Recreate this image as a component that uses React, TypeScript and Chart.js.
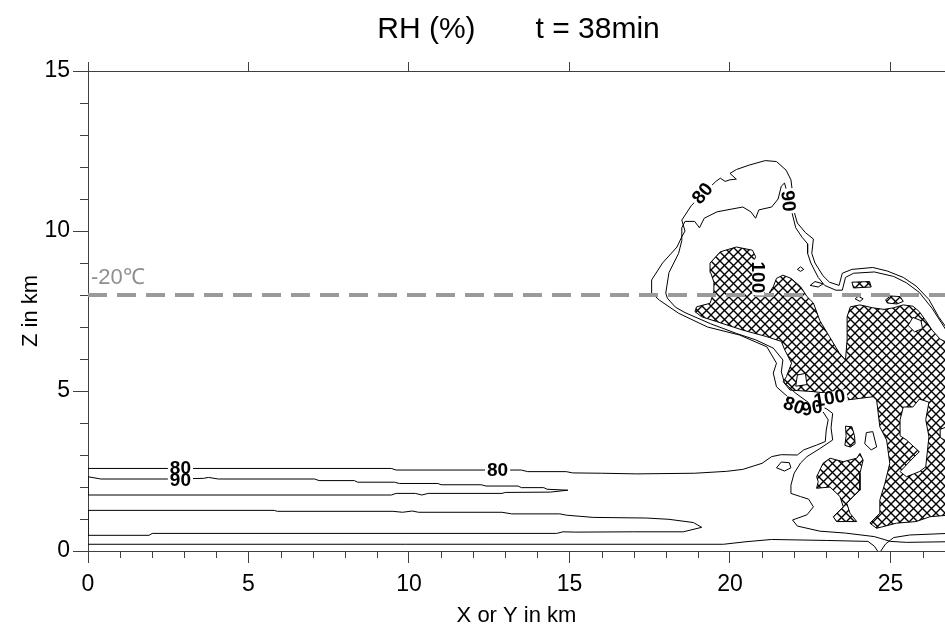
import { useEffect, useRef } from 'react';
import { Chart, registerables } from 'chart.js';

Chart.register(...registerables);

type P = [number, number];

// ---- axes ----
const xRange: P = [0, 26.7];
const yRange: P = [0, 15];
const xTickValues = [0, 5, 10, 15, 20, 25];
const yTickValues = [0, 5, 10, 15];
const minorStep = 1;

const titleLeft = 'RH (%)';
const titleRight = 't = 38min';
const xAxisTitle = 'X or Y in km';
const yAxisTitle = 'Z in km';

// -20 C isotherm height (km)
const isothermZ = 8;
const isothermText = '-20℃';

// ---- contour lines (km, km) ----
const rh80Outer: P[] = [
  [0, 2.58], [9.45, 2.58], [9.6, 2.53], [13.5, 2.53], [13.7, 2.48], [14.9, 2.48], [15.1, 2.44], [16.0, 2.43],
  [17.1, 2.41], [18.9, 2.43], [19.9, 2.49], [20.4, 2.55], [21.0, 2.74], [21.3, 2.95], [21.6, 3.01], [22.1, 3.0],
  [22.3, 3.16], [22.7, 3.31], [22.97, 3.42], [23.0, 3.78], [23.06, 4.1], [22.9, 4.35], [22.4, 4.5], [21.8, 4.82],
  [21.45, 5.13], [21.35, 5.56], [21.45, 5.87], [21.15, 6.38], [20.3, 6.75], [19.3, 7.0], [18.4, 7.43], [17.8, 7.84],
  [17.56, 8.06], [17.56, 8.47], [17.9, 9.0], [18.35, 9.5], [18.5, 9.82], [18.6, 10.0], [18.5, 10.34], [18.8, 10.8],
  [19.0, 11.0], [19.55, 11.54], [19.7, 11.65], [19.85, 11.55], [20.0, 11.6], [20.2, 11.62], [20.0, 11.8], [20.2, 11.92],
  [20.6, 12.06], [21.1, 12.2], [21.45, 12.17], [21.75, 11.9], [21.9, 11.6], [21.95, 11.2], [22.0, 10.6], [22.1, 10.25],
  [22.35, 9.95], [22.6, 9.75], [22.55, 9.3], [22.65, 9.0], [22.9, 8.6], [23.1, 8.4], [23.4, 8.3], [23.5, 8.68],
  [23.8, 8.8], [24.45, 8.86], [24.9, 8.75], [25.4, 8.55], [25.8, 8.28], [26.2, 7.86], [26.5, 7.32], [26.8, 6.9],
];

const rh90Inner: P[] = [
  [26.8, 0.29], [25.5, 0.27], [25.0, 0.3], [24.5, 0.45], [23.6, 0.56], [22.8, 0.62], [22.1, 0.78], [21.95, 0.97],
  [22.4, 1.13], [22.6, 1.38], [22.45, 1.62], [22.2, 1.7], [21.9, 1.8], [21.9, 2.06], [22.0, 2.43], [22.2, 2.75],
  [22.4, 2.95], [22.8, 3.2], [23.2, 3.47], [23.15, 3.85], [23.2, 4.3], [23.0, 4.45], [22.5, 4.6], [22.05, 4.93],
  [21.7, 5.25], [21.6, 5.6], [21.65, 5.97], [21.35, 6.34], [20.8, 6.6], [20.2, 6.8], [19.4, 7.1], [18.6, 7.45],
  [18.3, 7.62], [18.05, 7.9], [18.0, 8.06], [18.1, 8.7], [18.4, 9.3], [18.5, 9.7], [18.5, 10.1], [18.6, 10.3],
  [18.9, 10.3], [19.05, 10.1], [19.2, 10.4], [19.6, 10.6], [20.4, 10.75], [20.65, 10.6], [20.8, 10.4], [20.9, 10.66],
  [21.3, 10.75], [21.5, 11.0], [21.6, 11.4], [21.7, 11.5], [21.85, 10.95], [21.95, 10.5], [22.05, 10.1], [22.25, 9.8],
  [22.42, 9.6], [22.42, 9.3], [22.52, 9.0], [22.75, 8.55], [22.95, 8.3], [23.3, 8.15], [23.5, 8.15], [23.6, 8.55],
  [23.85, 8.68], [24.5, 8.72], [25.1, 8.58], [25.5, 8.38], [25.9, 8.08], [26.3, 7.58], [26.8, 6.8],
];

const rh90Tongue: P[] = [
  [0, 2.32], [0.4, 2.25], [2.5, 2.25], [3.6, 2.27], [3.75, 2.3], [4.06, 2.25], [7.06, 2.25], [7.2, 2.2],
  [8.3, 2.2], [8.4, 2.15], [9.55, 2.15], [9.7, 2.11], [10.9, 2.11], [11.0, 2.07], [12.25, 2.07], [12.4, 2.03],
  [13.4, 2.03], [13.5, 1.98], [14.2, 1.98], [14.3, 1.93], [14.95, 1.9], [14.4, 1.84], [13.0, 1.83], [12.9, 1.8],
  [10.6, 1.8], [10.4, 1.75], [10.2, 1.8], [9.6, 1.8], [9.45, 1.75], [0, 1.75],
];

const lowTongue: P[] = [
  [0, 1.27], [5.8, 1.27], [5.9, 1.24], [9.5, 1.24], [9.8, 1.21], [10.1, 1.25], [10.3, 1.21], [12.9, 1.21],
  [13.2, 1.16], [14.7, 1.16], [14.9, 1.12], [15.74, 1.05], [17.4, 1.03], [18.1, 0.99], [18.86, 0.89], [19.12, 0.74],
  [18.55, 0.6], [17.0, 0.6], [15.2, 0.59], [14.8, 0.6], [14.6, 0.55], [2.0, 0.55], [1.9, 0.49], [0, 0.49],
];

const surfaceLineA: P[] = [
  [0, 0.21], [19.8, 0.21], [20.5, 0.29], [21.3, 0.36], [23.0, 0.33], [24.3, 0.3], [24.5, 0.15], [24.6, 0],
];
const surfaceLineB: P[] = [
  [24.7, 0], [24.85, 0.22], [25.1, 0.42], [25.6, 0.5], [26.8, 0.55],
];

const smallLoops: P[][] = [
  [[21.45, 2.6], [21.6, 2.78], [21.85, 2.76], [21.9, 2.6], [21.7, 2.5]],
  [[24.25, 3.7], [24.45, 3.73], [24.57, 3.25], [24.4, 3.16], [24.2, 3.35]],
  [[22.1, 8.8], [22.2, 8.88], [22.3, 8.8], [22.2, 8.74]],
  [[22.5, 8.3], [22.65, 8.42], [22.9, 8.35], [22.75, 8.25]],
  [[23.9, 7.88], [24.0, 7.96], [24.15, 7.88], [24.05, 7.8]],
];

// ---- RH >= 100 % (hatched) ----
const sat100Main: P[] = [
  [19.38, 9.0], [19.7, 9.35], [20.2, 9.5], [20.7, 9.4], [20.8, 9.2], [20.7, 8.94], [20.85, 8.5], [21.05, 8.1],
  [21.15, 7.95], [21.35, 8.26], [21.45, 8.52], [21.65, 8.62], [21.9, 8.52], [22.2, 8.26], [22.4, 7.95], [22.6, 7.75],
  [22.8, 7.2], [23.1, 6.7], [23.4, 6.2], [23.6, 5.97], [23.65, 6.6], [23.65, 7.32], [23.75, 7.63], [24.05, 7.69],
  [24.45, 7.6], [24.8, 7.55], [25.1, 7.6], [25.4, 7.69], [25.7, 7.65], [25.9, 7.48], [26.1, 7.2], [26.3, 6.9],
  [26.55, 6.62], [26.8, 6.5], [26.8, 1.12], [26.23, 1.07], [25.8, 0.92], [25.19, 0.87], [24.57, 0.71], [24.36, 0.87],
  [24.67, 1.18], [24.67, 1.59], [24.83, 2.12], [24.98, 2.74], [24.88, 3.47], [24.67, 3.88], [24.57, 4.72], [24.46, 4.82],
  [23.64, 4.72], [23.43, 4.88], [22.6, 4.98], [21.87, 5.03], [21.66, 5.29], [21.76, 5.45], [21.92, 5.87], [21.71, 6.28],
  [21.6, 6.55], [21.14, 6.7], [20.41, 6.9], [19.58, 7.17], [19.12, 7.32], [18.91, 7.48], [18.96, 7.63], [19.38, 7.74],
  [19.5, 8.1], [19.5, 8.4], [19.4, 8.7],
];
const sat100Lower: P[] = [
  [22.7, 2.32], [22.9, 2.74], [23.12, 2.9], [23.53, 2.79], [23.95, 2.9], [24.05, 3.05], [24.15, 2.84], [24.05, 2.43],
  [24.05, 1.9], [23.84, 1.7], [23.64, 1.49], [23.74, 1.18], [23.95, 0.92], [23.32, 0.92], [23.22, 1.07], [23.53, 1.38],
  [23.43, 1.7], [23.12, 2.0], [22.7, 1.96], [22.75, 2.17],
];
const sat100Small: P[][] = [
  [[23.6, 3.9], [23.8, 3.88], [23.88, 3.6], [23.9, 3.35], [23.75, 3.25], [23.58, 3.3], [23.62, 3.6]],
  [[23.85, 8.22], [23.8, 8.4], [24.35, 8.42], [24.4, 8.25]],
  [[24.85, 7.85], [25.0, 7.97], [25.3, 7.95], [25.4, 7.8], [25.2, 7.72], [24.9, 7.75]],
];
// unsaturated holes inside the hatched area
const sat100Holes: P[][] = [
  [[25.3, 4.1], [25.4, 4.5], [25.7, 4.5], [25.9, 4.75], [26.2, 4.65], [26.1, 4.1], [26.2, 3.57], [26.1, 2.63],
   [25.9, 2.48], [25.5, 2.32], [25.3, 2.48], [25.6, 2.8], [25.9, 3.1], [25.5, 3.47], [25.3, 3.6]],
  [[25.55, 7.05], [25.7, 7.3], [25.95, 7.2], [26.0, 6.95], [25.75, 6.85]],
  [[22.05, 5.15], [22.1, 5.5], [22.35, 5.55], [22.4, 5.2]],
  [[26.8, 3.4], [26.55, 3.55], [26.55, 3.8], [26.8, 3.9]],
];

// ---- contour labels ----
const labelText = ['80', '90', '80', '80', '90', '100', '80', '90', '100'];
const labelX = [2.88, 2.88, 12.76, 19.14, 21.82, 20.88, 22.0, 22.55, 23.1];
const labelY = [2.59, 2.23, 2.53, 11.18, 10.94, 8.55, 4.55, 4.47, 4.78];
const labelAngle = [0, 0, 0, -50, 85, 90, 20, -10, -10];

const FONT = '"Liberation Sans", Arial, sans-serif';
const AXIS = '#404040';

export default function App() {
  const ref = useRef<HTMLCanvasElement>(null);

  useEffect(() => {
    const canvas = ref.current;
    if (!canvas) return;
    const tile = document.createElement('canvas');
    tile.width = 9;
    tile.height = 9;
    const t = tile.getContext('2d')!;
    t.strokeStyle = '#000';
    t.lineWidth = 1.4;
    t.beginPath();
    t.moveTo(-1, -1); t.lineTo(10, 10);
    t.moveTo(-1, 10); t.lineTo(10, -1);
    t.stroke();
    const pattern = canvas.getContext('2d')!.createPattern(tile, 'repeat');

    const toPts = (a: P[], close: boolean) => {
      const pts = a.map(([x, y]) => ({ x, y }));
      if (close) pts.push({ x: a[0][0], y: a[0][1] });
      return pts;
    };
    const lineDs = (a: P[], close: boolean): any => ({
      data: toPts(a, close), borderColor: '#000', borderWidth: 1, pointRadius: 0,
      fill: false, tension: 0, order: 1,
    });
    const hatchDs = (a: P[]): any => ({ ...lineDs(a, true), backgroundColor: pattern, fill: 'shape', order: 3 });
    const holeDs = (a: P[]): any => ({ ...lineDs(a, true), backgroundColor: '#ffffff', fill: 'shape', order: 2 });

    const datasets: any[] = [
      {
        data: [{ x: xRange[0], y: isothermZ }, { x: xRange[1], y: isothermZ }],
        borderColor: '#9a9a9a', borderWidth: 4, borderDash: [19, 10], pointRadius: 0, fill: false, order: 0,
      },
      hatchDs(sat100Main),
      hatchDs(sat100Lower),
      ...sat100Small.map(hatchDs),
      ...sat100Holes.map(holeDs),
      lineDs(rh80Outer, false),
      lineDs(rh90Inner, false),
      lineDs(rh90Tongue, true),
      lineDs(lowTongue, true),
      lineDs(surfaceLineA, false),
      lineDs(surfaceLineB, false),
      ...smallLoops.map((l) => lineDs(l, true)),
    ];

    const decor = {
      id: 'decor',
      afterDatasetsDraw(chart: any) {
        const { ctx, chartArea: ca, scales } = chart;
        const xs = scales.x, ys = scales.y;
        ctx.save();
        // contour labels
        ctx.font = `bold 19px ${FONT}`;
        ctx.textAlign = 'center';
        ctx.textBaseline = 'middle';
        const place = (i: number, fn: (w: number) => void) => {
          ctx.save();
          ctx.translate(xs.getPixelForValue(labelX[i]), ys.getPixelForValue(labelY[i]));
          ctx.rotate((labelAngle[i] * Math.PI) / 180);
          fn(ctx.measureText(labelText[i]).width);
          ctx.restore();
        };
        ctx.fillStyle = '#fff';
        labelText.forEach((_, i) => place(i, (w) => ctx.fillRect(-w / 2 - 2, -6, w + 4, 12)));
        ctx.fillStyle = '#000';
        labelText.forEach((s, i) => place(i, () => ctx.fillText(s, 0, 1)));
        // isotherm label
        ctx.font = `22px ${FONT}`;
        ctx.fillStyle = '#8f8f8f';
        ctx.textAlign = 'left';
        ctx.textBaseline = 'alphabetic';
        ctx.fillText(isothermText, ca.left + 3, ys.getPixelForValue(isothermZ) - 11);
        ctx.restore();
      },
      afterDraw(chart: any) {
        const { ctx, chartArea: ca, scales } = chart;
        const xs = scales.x, ys = scales.y;
        ctx.save();
        // minor ticks
        ctx.strokeStyle = AXIS;
        ctx.lineWidth = 1;
        ctx.beginPath();
        for (let v = Math.ceil(xRange[0]); v <= xRange[1]; v += minorStep) {
          if (xTickValues.includes(v)) continue;
          const px = Math.round(xs.getPixelForValue(v)) + 0.5;
          ctx.moveTo(px, ca.bottom);
          ctx.lineTo(px, ca.bottom + 7);
        }
        for (let v = yRange[0]; v <= yRange[1]; v += minorStep) {
          if (yTickValues.includes(v)) continue;
          const py = Math.round(ys.getPixelForValue(v)) + 0.5;
          ctx.moveTo(ca.left, py);
          ctx.lineTo(ca.left - 8, py);
        }
        ctx.stroke();
        // titles
        ctx.fillStyle = '#000';
        ctx.font = `30px ${FONT}`;
        ctx.textBaseline = 'alphabetic';
        ctx.textAlign = 'left';
        const gap = 60;
        const w1 = ctx.measureText(titleLeft).width;
        const w2 = ctx.measureText(titleRight).width;
        const cx = (ca.left + ca.right) / 2;
        const start = cx + 2 - (w1 + gap + w2) / 2;
        ctx.fillText(titleLeft, start, 38);
        ctx.fillText(titleRight, start + w1 + gap, 38);
        ctx.font = `22px ${FONT}`;
        ctx.textAlign = 'center';
        ctx.textBaseline = 'middle';
        ctx.fillText(xAxisTitle, cx, ca.bottom + 65);
        ctx.save();
        ctx.translate(ca.left - 57, (ca.top + ca.bottom) / 2);
        ctx.rotate(-Math.PI / 2);
        ctx.fillText(yAxisTitle, 0, 0);
        ctx.restore();
        ctx.restore();
      },
    };

    const setTicks = (vals: number[]) => (s: any) => {
      s.ticks = vals.map((value) => ({ value }));
    };

    const chart = new Chart(canvas, {
      type: 'line',
      data: { datasets },
      options: {
        responsive: false,
        animation: false,
        devicePixelRatio: 1,
        events: [],
        layout: { padding: 0 },
        plugins: { legend: { display: false }, tooltip: { enabled: false }, title: { display: false } },
        scales: {
          x: {
            type: 'linear', position: 'bottom', min: xRange[0], max: xRange[1],
            afterBuildTicks: setTicks(xTickValues),
            afterFit: (s: any) => { s.height = 77; },
            ticks: { font: { family: FONT, size: 23 }, color: '#000', padding: 8, maxRotation: 0, autoSkip: false },
            grid: { drawOnChartArea: false, tickLength: 12, color: AXIS },
            border: { color: AXIS },
          },
          xTop: {
            type: 'linear', position: 'top', min: xRange[0], max: xRange[1],
            afterBuildTicks: setTicks(xTickValues),
            afterFit: (s: any) => { s.height = 71; },
            ticks: { display: false },
            grid: { drawOnChartArea: false, tickLength: 9, color: AXIS },
            border: { color: AXIS },
          },
          y: {
            type: 'linear', position: 'left', min: yRange[0], max: yRange[1],
            afterBuildTicks: setTicks(yTickValues),
            afterFit: (s: any) => { s.width = 88; },
            ticks: { font: { family: FONT, size: 23 }, color: '#000', padding: 3 },
            grid: { drawOnChartArea: false, tickLength: 15, color: AXIS },
            border: { color: AXIS },
          },
        } as any,
      },
      plugins: [decor],
    } as any);

    return () => chart.destroy();
  }, []);

  return (
    <div style={{ position: 'fixed', left: 0, top: 0, width: 945, height: 628, background: '#fff' }}>
      <canvas ref={ref} width={945} height={628} style={{ display: 'block' }} />
    </div>
  );
}
